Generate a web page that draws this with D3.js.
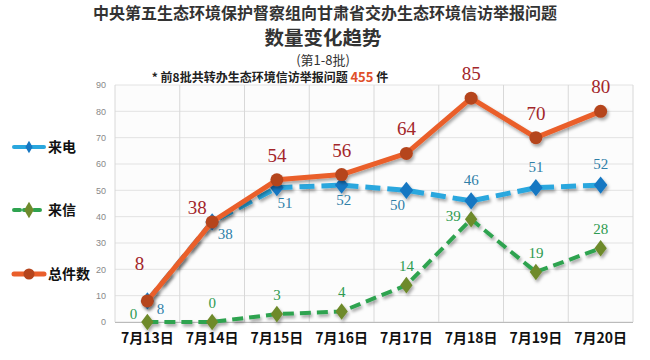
<!DOCTYPE html>
<html><head><meta charset="utf-8">
<script src="https://cdn.jsdelivr.net/npm/d3@7"></script>
<style>body{margin:0;background:#fff}svg{display:block}</style>
</head><body>
<svg id="c" width="650" height="360"></svg>
<script>
const categories = ["7月13日","7月14日","7月15日","7月16日","7月17日","7月18日","7月19日","7月20日"];
const phoneValues = [8,38,51,52,50,46,51,52];
const letterValues = [0,0,3,4,14,39,19,28];
const totalValues = [8,38,54,56,64,85,70,80];
const yTicks = [0,10,20,30,40,50,60,70,80,90];
const seriesNames = ["来电","来信","总件数"];

const svg = d3.select("#c");
const M = {l:115, r:633, t:85, b:322};
const x = d3.scaleBand().domain(categories).range([M.l, M.r]);
const y = d3.scaleLinear().domain([0,90]).range([M.b, M.t]);
const cx = d => x(d) + x.bandwidth()/2;

const defs = svg.append("defs");
const f = defs.append("filter").attr("id","sh").attr("x","-20%").attr("y","-20%").attr("width","140%").attr("height","160%");
f.append("feDropShadow").attr("dx",1.5).attr("dy",2.5).attr("stdDeviation",1.6).attr("flood-color","#000").attr("flood-opacity",0.35);

// titles
const sans = "'Noto Sans CJK SC','Noto Sans',sans-serif";
svg.append("text").attr("x",325).attr("y",19).attr("text-anchor","middle").attr("font-family",sans).attr("font-weight","bold").attr("font-size",16).attr("fill","#333").text("中央第五生态环境保护督察组向甘肃省交办生态环境信访举报问题");
svg.append("text").attr("x",323).attr("y",45).attr("text-anchor","middle").attr("font-family",sans).attr("font-weight","bold").attr("font-size",19.5).attr("fill","#333").text("数量变化趋势");
svg.append("text").attr("x",323).attr("y",65).attr("text-anchor","middle").attr("font-family",sans).attr("font-size",13).attr("fill","#333").text("(第1-8批)");
const sub = svg.append("text").attr("x",270).attr("y",82).attr("text-anchor","middle").attr("font-family",sans).attr("font-weight","bold").attr("font-size",12).attr("fill","#222");
sub.append("tspan").text("* 前8批共转办生态环境信访举报问题 ");
sub.append("tspan").attr("fill","#e0502a").attr("font-size",13).text("455");
sub.append("tspan").text(" 件");

// plot background & grid
svg.append("rect").attr("x",M.l).attr("y",M.t).attr("width",M.r-M.l).attr("height",M.b-M.t).attr("fill","#fcfcfc");
const g = svg.append("g");
g.selectAll(".hg").data(yTicks).join("line").attr("x1",M.l).attr("x2",M.r).attr("y1",d=>y(d)).attr("y2",d=>y(d)).attr("stroke","#e2e2e2").attr("stroke-width",1);
const vb = categories.map(c=>x(c)).concat([M.r]);
g.selectAll(".vg").data(vb).join("line").attr("x1",d=>d).attr("x2",d=>d).attr("y1",M.t).attr("y2",M.b).attr("stroke","#d8d8d8").attr("stroke-width",1);
g.append("line").attr("x1",M.l).attr("x2",M.r).attr("y1",M.b+0.5).attr("y2",M.b+0.5).attr("stroke","#bbb");

// y axis
const ya = svg.append("g").attr("transform",`translate(${M.l},0)`).call(d3.axisLeft(y).tickValues(yTicks).tickSize(0).tickPadding(9));
ya.select(".domain").remove();
ya.selectAll("text").attr("font-family","'Liberation Sans',Arial,sans-serif").attr("font-size",9).attr("fill","#888");

// x axis
const xa = svg.append("g").attr("transform",`translate(0,${M.b})`).call(d3.axisBottom(x).tickSize(0).tickPadding(11));
xa.select(".domain").remove();
xa.selectAll("text").attr("font-family",sans).attr("font-weight","bold").attr("font-size",14).attr("fill","#111");

const line = vals => d3.line().x((d,i)=>cx(categories[i])).y(d=>y(d))(vals);
const diamond = d3.symbol().type(d3.symbolDiamond);

// letters (来信)
const gl = svg.append("g").attr("filter","url(#sh)");
gl.append("path").attr("d",line(letterValues)).attr("fill","none").attr("stroke","#2fa350").attr("stroke-width",4).attr("stroke-dasharray","11,6");
gl.selectAll("path.m").data(letterValues).join("path").attr("class","m").attr("d",diamond.size(110)()).attr("transform",(d,i)=>`translate(${cx(categories[i])},${y(d)}) scale(1.1,0.85)`).attr("fill","#6e8a2c");

// phone (来电)
const gp = svg.append("g").attr("filter","url(#sh)");
gp.append("path").attr("d",line(phoneValues)).attr("fill","none").attr("stroke","#2aa7de").attr("stroke-width",5).attr("stroke-dasharray","15,7");
gp.selectAll("path.m").data(phoneValues).join("path").attr("class","m").attr("d",diamond.size(120)()).attr("transform",(d,i)=>`translate(${cx(categories[i])},${y(d)}) scale(1.15,0.85)`).attr("fill","#1677c2");

// total
const gt = svg.append("g").attr("filter","url(#sh)");
gt.append("path").attr("d",line(totalValues)).attr("fill","none").attr("stroke","#ea5f2b").attr("stroke-width",5).attr("stroke-linejoin","round");
gt.selectAll("circle").data(totalValues).join("circle").attr("cx",(d,i)=>cx(categories[i])).attr("cy",d=>y(d)).attr("r",6.5).attr("fill","#b5451d");

// labels
const serif = "'Liberation Serif','DejaVu Serif',serif";
svg.selectAll("text.tl").data(totalValues).join("text").attr("class","tl")
  .attr("x",(d,i)=>cx(categories[i]) + (i===0?-8:i===1?-15:0))
  .attr("y",(d,i)=>y(d) - (i===0?31:i===1?8:18))
  .attr("text-anchor","middle").attr("font-family",serif).attr("font-size",19).attr("fill","#a3262a").text(d=>d);
svg.selectAll("text.pl").data(phoneValues).join("text").attr("class","pl")
  .attr("x",(d,i)=>cx(categories[i]) + (i<2?13:i===4?-9:i===3?2:i===2?8:0))
  .attr("y",(d,i)=>i===0 ? y(d)+13 : i===1 ? y(d)+17 : i<5 ? y(d)+20 : y(d)-16)
  .attr("text-anchor","middle").attr("font-family",serif).attr("font-size",15).attr("fill","#2f7fa8").text(d=>d);
svg.selectAll("text.ll").data(letterValues).join("text").attr("class","ll")
  .attr("x",(d,i)=>cx(categories[i]) + (i===0?-14:i===5?-18:0))
  .attr("y",(d,i)=>y(d) - (i===0?3:i===5?-2:14))
  .attr("text-anchor","middle").attr("font-family",serif).attr("font-size",15).attr("fill","#2e9b50").text(d=>d);

// legend
const leg = [
  {name:seriesNames[0], y:147, stroke:"#2aa7de", mark:"#1677c2", dash:null, type:"d"},
  {name:seriesNames[1], y:210, stroke:"#2fa350", mark:"#6e8a2c", dash:"6,4", type:"d"},
  {name:seriesNames[2], y:274, stroke:"#ea5f2b", mark:"#b5451d", dash:null, type:"c"}
];
const lg = svg.selectAll("g.lg").data(leg).join("g").attr("class","lg").attr("transform",d=>`translate(0,${d.y})`);
lg.append("line").attr("x1",14).attr("x2",44).attr("stroke",d=>d.stroke).attr("stroke-width",d=>d.type==="c"?5:4).attr("stroke-linecap","round").attr("stroke-dasharray",d=>d.dash);
lg.each(function(d){
  const s = d3.select(this);
  if(d.type==="c") s.append("circle").attr("cx",29).attr("r",5.5).attr("fill",d.mark);
  else s.append("path").attr("d",diamond.size(d.name==="来信"?80:45)()).attr("transform","translate(29,0)").attr("fill",d.mark);
});
lg.append("text").attr("x",48).attr("y",5).attr("font-family",sans).attr("font-weight","bold").attr("font-size",14).attr("fill","#111").text(d=>d.name);
</script>
</body></html>
